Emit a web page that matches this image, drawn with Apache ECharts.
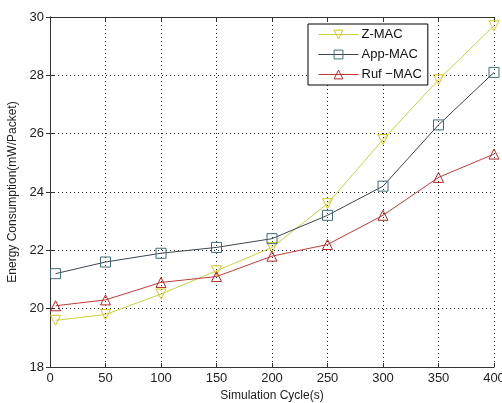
<!DOCTYPE html>
<html>
<head>
<meta charset="utf-8">
<script src="https://cdn.jsdelivr.net/npm/echarts@6/dist/echarts.min.js"></script>
<style>
  html, body { margin: 0; padding: 0; background: #fff; }
  #chart { width: 502px; height: 403px; }
</style>
</head>
<body>
<div id="chart"></div>
<script>
// simulation cycle positions (first point sits a little right of 0)
const cycles = [5, 50, 100, 150, 200, 250, 300, 350, 400];
const zmac = [19.6, 19.8, 20.5, 21.3, 22.1, 23.6, 25.8, 27.85, 29.7];
const appmac = [21.2, 21.6, 21.9, 22.1, 22.4, 23.2, 24.2, 26.3, 28.1];
const rufmac = [20.1, 20.3, 20.9, 21.1, 21.8, 22.2, 23.2, 24.5, 25.3];

const pairs = (ys) => cycles.map((x, i) => [x, ys[i]]);

const myChart = echarts.init(document.getElementById("chart"));

const fontFam = "Liberation Sans, Arial, sans-serif";
const tickFont = { color: "#222", fontSize: 13, fontFamily: fontFam };

const mkSeries = (name, data, lineColor, markColor, symbol, rotate) => ({
  name: name,
  type: "line",
  data: pairs(data),
  symbol: symbol,
  symbolRotate: rotate,
  symbolSize: 10,
  showAllSymbol: true,
  lineStyle: { color: lineColor, width: 1 },
  itemStyle: { color: "rgba(255,255,255,0)", borderColor: markColor, borderWidth: 1 },
  emphasis: { disabled: true },
  z: 3,
});

myChart.setOption({
  animation: false,
  grid: { left: 50, right: 8, top: 17, bottom: 36, outerBoundsMode: "none", containLabel: false },
  legend: {
    show: true,
    left: 308,
    top: 24,
    width: 121,
    orient: "vertical",
    backgroundColor: "#fff",
    borderColor: "#000",
    borderWidth: 1,
    borderRadius: 0,
    padding: [4, 6, 4, 10],
    itemGap: 7,
    itemWidth: 40,
    itemHeight: 11,
    lineStyle: { width: 1 },
    itemStyle: { borderWidth: 1 },
    textStyle: { color: "#111", fontSize: 13, fontFamily: fontFam, padding: [0, 0, 0, -2] },
    data: ["Z-MAC", "App-MAC", "Ruf \u2212MAC"],
  },
  xAxis: [
    {
      type: "value",
      min: 0,
      max: 400,
      interval: 50,
      name: "Simulation Cycle(s)",
      nameLocation: "middle",
      nameGap: 22,
      nameTextStyle: { color: "#222", fontSize: 12, fontFamily: fontFam },
      axisLine: { lineStyle: { color: "#333", width: 1 } },
      axisTick: { inside: true, length: 4, lineStyle: { color: "#333" } },
      axisLabel: Object.assign({ margin: 5 }, tickFont),
      splitLine: { show: true, lineStyle: { color: "#222", type: [1, 3], width: 1 } },
    },
    {
      type: "value",
      position: "top",
      min: 0,
      max: 400,
      interval: 50,
      axisLine: { show: true, lineStyle: { color: "#333", width: 1 } },
      axisTick: { inside: true, length: 4, lineStyle: { color: "#333" } },
      axisLabel: { show: false },
      splitLine: { show: false },
    },
  ],
  yAxis: [
    {
      type: "value",
      min: 18,
      max: 30,
      interval: 2,
      name: "Energy Consumption(mW/Packet)",
      nameLocation: "middle",
      nameGap: 24,
      nameTextStyle: { color: "#222", fontSize: 12, fontFamily: fontFam },
      axisLine: { show: true, lineStyle: { color: "#333", width: 1 } },
      axisTick: { show: true, inside: true, length: 4, lineStyle: { color: "#333" } },
      axisLabel: Object.assign({ margin: 6 }, tickFont),
      splitLine: { show: true, lineStyle: { color: "#222", type: [1, 3], width: 1 } },
    },
    {
      type: "value",
      position: "right",
      min: 18,
      max: 30,
      interval: 2,
      axisLine: { show: true, lineStyle: { color: "#333", width: 1 } },
      axisTick: { show: true, inside: true, length: 4, lineStyle: { color: "#333" } },
      axisLabel: { show: false },
      splitLine: { show: false },
    },
  ],
  series: [
    mkSeries("Z-MAC", zmac, "#c9d23c", "#d8c820", "triangle", 180),
    mkSeries("App-MAC", appmac, "#3c4650", "#3e6e78", "rect", 0),
    mkSeries("Ruf \u2212MAC", rufmac, "#c23a3a", "#b82828", "triangle", 0),
  ],
});
</script>
</body>
</html>
